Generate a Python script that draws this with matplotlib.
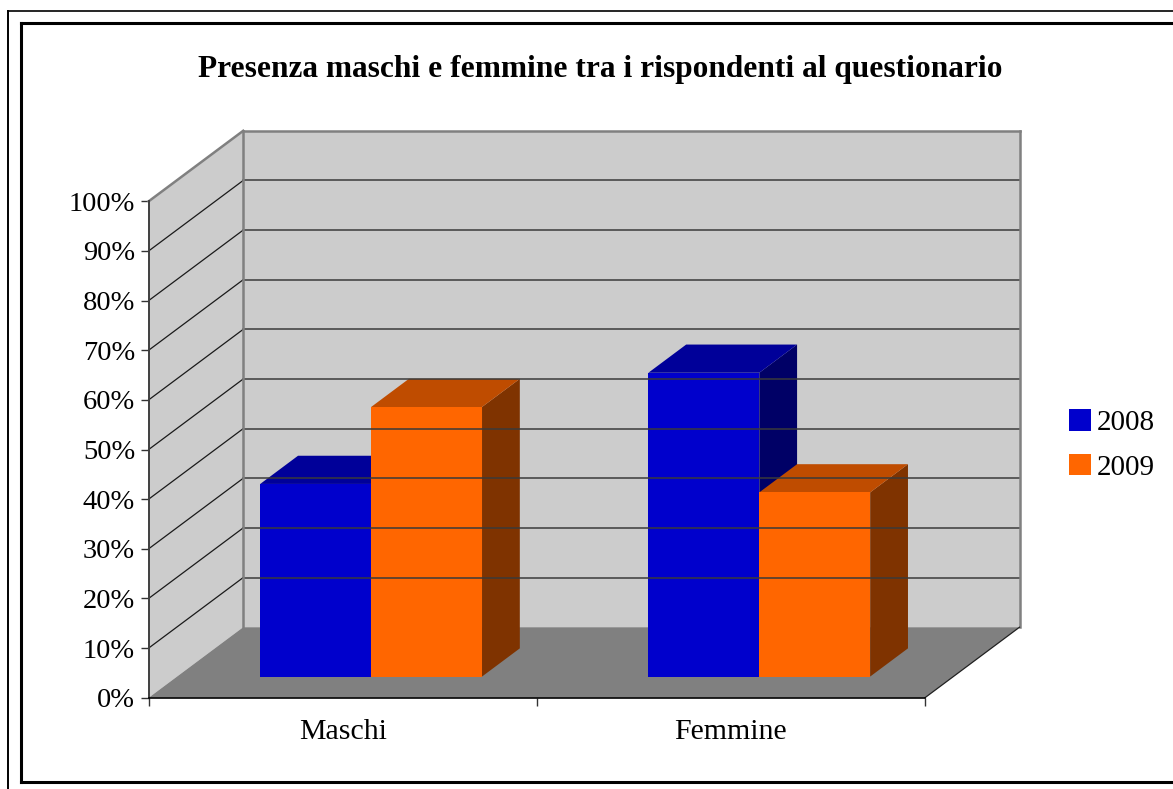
import matplotlib.pyplot as plt
from matplotlib.lines import Line2D
from matplotlib.patches import Patch, Polygon
from matplotlib.ticker import PercentFormatter

categories = ["Maschi", "Femmine"]
years = ["2008", "2009"]
values_2008 = [38.8, 61.2]
values_2009 = [54.3, 37.1]
y_ticks = list(range(0, 101, 10))

front_colors = ["#0000CC", "#FF6600"]
top_colors = ["#000099", "#BF4C00"]
side_colors = ["#000066", "#7F3300"]

plt.rcParams["font.family"] = ["Liberation Serif", "DejaVu Serif"]

W, H = 1173, 789
fig = plt.figure(figsize=(W / 100, H / 100), dpi=100)


def fx(px):
    return px / W


def fy(py):
    return 1 - py / H


# front plane of the box (pixels): value axis on the left, category floor edge at the bottom
left, right = 148.7, 925.0
bottom, top = 697.7, 201.3
ax = fig.add_axes([fx(left), fy(bottom), (right - left) / W, (bottom - top) / H])
ax.set_xlim(0, len(categories))
ax.set_ylim(0, 100)
ax.patch.set_visible(False)
for spine in ax.spines.values():
    spine.set_visible(False)

# depth of the box expressed in data units
DX = 94.5 / ((right - left) / len(categories))
DY = 70.5 / ((bottom - top) / 100)


def proj(x, y, z):
    return (x + z * DX, y + z * DY)


def poly(points, **kw):
    ax.add_patch(Polygon([proj(*p) for p in points], closed=True, clip_on=False, **kw))


def seg(p, q, **kw):
    a, b = proj(*p), proj(*q)
    ax.add_line(Line2D([a[0], b[0]], [a[1], b[1]], clip_on=False, **kw))


n = len(categories)
wall = "#CCCCCC"
poly([(0, 0, 1), (n, 0, 1), (n, 100, 1), (0, 100, 1)], facecolor=wall, edgecolor="none")
poly([(0, 0, 0), (0, 0, 1), (0, 100, 1), (0, 100, 0)], facecolor=wall, edgecolor="none")
poly([(0, 0, 0), (n, 0, 0), (n, 0, 1), (0, 0, 1)], facecolor="#808080", edgecolor="none")

for v in y_ticks[1:-1]:
    seg((0, v, 1), (n, v, 1), color="#3A3A3A", lw=1.1)
    seg((0, v, 0), (0, v, 1), color="#1A1A1A", lw=0.9)

edge = dict(color="#808080", lw=1.8, solid_capstyle="projecting")
seg((0, 0, 1), (0, 100, 1), **edge)
seg((0, 100, 1), (n, 100, 1), **edge)
seg((n, 100, 1), (n, 0, 1), **edge)
seg((0, 100, 0), (0, 100, 1), **edge)
seg((n, 0, 0), (n, 0, 1), color="#202020", lw=0.9)
seg((0, 0, 0), (0, 100, 0), color="#404040", lw=1.4)
seg((0, 0, 0), (n, 0, 0), color="#000000", lw=1.2)

# clustered 3D columns, gap width 150%
series = [values_2008, values_2009]
bar_w = 1 / (len(series) + 1.5)
z_front, z_back = 0.3, 0.7
for i in range(n):
    for j, vals in enumerate(series):
        v = vals[i]
        xl = i + 0.75 * bar_w + j * bar_w
        xr = xl + bar_w
        poly([(xr, 0, z_front), (xr, 0, z_back), (xr, v, z_back), (xr, v, z_front)],
             facecolor=side_colors[j], edgecolor="none")
        poly([(xl, v, z_front), (xr, v, z_front), (xr, v, z_back), (xl, v, z_back)],
             facecolor=top_colors[j], edgecolor="none")
        poly([(xl, 0, z_front), (xr, 0, z_front), (xr, v, z_front), (xl, v, z_front)],
             facecolor=front_colors[j], edgecolor="none")

ax.set_yticks(y_ticks)
ax.yaxis.set_major_formatter(PercentFormatter(decimals=0))
ax.tick_params(axis="y", direction="out", length=5.8, width=1, color="#333333",
               labelsize=20.5, pad=4)
ax.set_xticks(range(n + 1))
ax.set_xticklabels([])
ax.set_xticks([i + 0.5 for i in range(n)], minor=True)
ax.set_xticklabels(categories, minor=True)
ax.tick_params(axis="x", which="major", direction="out", length=5.8, width=1, color="#333333")
ax.tick_params(axis="x", which="minor", length=0, labelsize=21.5, pad=15)

fig.text(fx(600), fy(77.5), "Presenza maschi e femmine tra i rispondenti al questionario",
         ha="center", va="baseline", fontsize=22.6, fontweight="bold")

handles = [Patch(facecolor=c, edgecolor="none") for c in front_colors]
fig.legend(handles, years, loc="center left", bbox_to_anchor=(fx(1057), fy(445)),
           frameon=False, fontsize=21, handlelength=0.75, handleheight=0.75,
           handletextpad=0.2, labelspacing=0.6, borderaxespad=0)

# double frame round the chart
frame = dict(color="black", transform=fig.transFigure, figure=fig)
fig.add_artist(Line2D([fx(8), 1], [fy(11), fy(11)], lw=1.2, **frame))
fig.add_artist(Line2D([fx(8), fx(8)], [fy(11), 0], lw=1.4, **frame))
fig.add_artist(Line2D([fx(21), 1], [fy(23), fy(23)], lw=2.2, **frame))
fig.add_artist(Line2D([fx(21), fx(21)], [fy(23), fy(782)], lw=2.2, **frame))
fig.add_artist(Line2D([fx(21), 1], [fy(782), fy(782)], lw=2.2, **frame))

fig.savefig("out.png", dpi=100)
